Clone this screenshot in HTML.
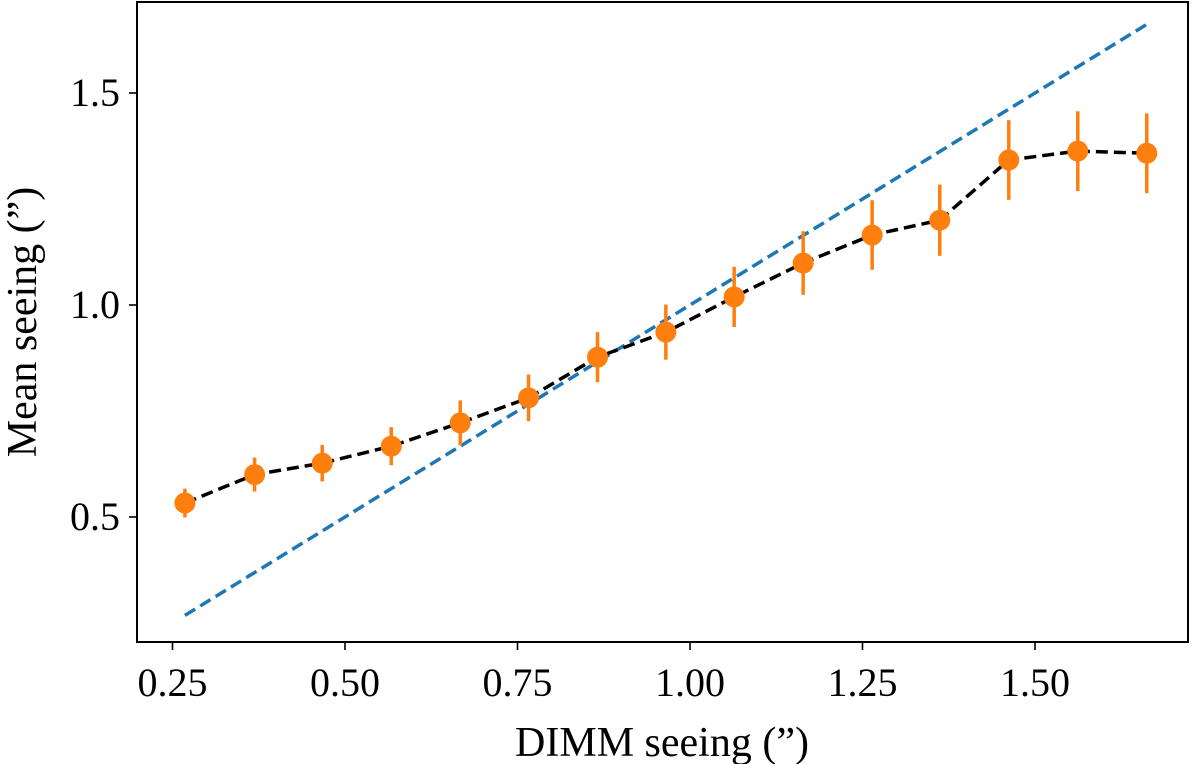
<!DOCTYPE html>
<html><head><meta charset="utf-8"><style>
html,body{margin:0;padding:0;background:#fff;}
svg{display:block;font-family:"Liberation Serif",serif;}
</style></head><body>
<svg id="chart" width="1200" height="764" viewBox="0 0 1200 764">
<rect x="137" y="2" width="1051" height="640" fill="none" stroke="#000" stroke-width="2"/>
<g id="xt"></g>
<g id="yt"></g>
<g id="marks"></g>
<text x="662" y="756" font-size="42" text-anchor="middle">DIMM seeing (”)</text>
<text transform="translate(36,322) rotate(-90)" font-size="42" text-anchor="middle">Mean seeing (”)</text>
</svg>
<script>
const xVals=[0.268,0.369,0.467,0.567,0.667,0.766,0.866,0.965,1.064,1.164,1.264,1.362,1.462,1.562,1.662];
const yVals=[0.533,0.600,0.627,0.667,0.722,0.781,0.877,0.936,1.019,1.099,1.165,1.200,1.342,1.363,1.358];
const yErr=[0.034,0.040,0.043,0.045,0.053,0.055,0.059,0.065,0.071,0.075,0.082,0.084,0.094,0.094,0.094];
const xTicks=[0.25,0.50,0.75,1.00,1.25,1.50];
const xTickLabels=["0.25","0.50","0.75","1.00","1.25","1.50"];
const yTicks=[0.5,1.0,1.5];
const yTickLabels=["0.5","1.0","1.5"];
const refLine=[0.268,1.662];
const X=v=>690+(v-1)*690;
const Y=v=>305-(v-1)*424;
const NS="http://www.w3.org/2000/svg";
function mk(tag,attrs,parent){const e=document.createElementNS(NS,tag);for(const k in attrs)e.setAttribute(k,attrs[k]);parent.appendChild(e);return e;}
const xt=document.getElementById('xt'),yt=document.getElementById('yt'),m=document.getElementById('marks');
xTicks.forEach((t,i)=>{
 const l=mk('line',{x1:X(t),x2:X(t),y1:642,y2:650,stroke:'#000','stroke-width':1.6},xt);
 
 
 const tx=mk('text',{x:X(t),y:696,'font-size':40,'text-anchor':'middle'},xt);tx.textContent=xTickLabels[i];
 
 
});
yTicks.forEach((t,i)=>{
 const l=mk('line',{x1:129,x2:137,y1:Y(t),y2:Y(t),stroke:'#000','stroke-width':1.6},yt);
 
 
 const tx=mk('text',{x:120,y:Y(t)+13,'font-size':40,'text-anchor':'end'},yt);tx.textContent=yTickLabels[i];
 
 
});
const ref=mk('line',{x1:X(refLine[0]),y1:Y(refLine[0]),x2:X(refLine[1]),y2:Y(refLine[1]),stroke:'#1f77b4','stroke-width':3.5,'stroke-dasharray':'12,6'},m);


const pl=mk('polyline',{points:xVals.map((x,i)=>X(x)+','+Y(yVals[i])).join(' '),fill:'none',stroke:'#000','stroke-width':3.5,'stroke-dasharray':'12,6'},m);


xVals.forEach((x,i)=>{
 const e=mk('line',{x1:X(x),x2:X(x),y1:Y(yVals[i]-yErr[i]),y2:Y(yVals[i]+yErr[i]),stroke:'#ff7f0e','stroke-width':3.5},m);
 
 
 const c=mk('circle',{cx:X(x),cy:Y(yVals[i]),r:10.5,fill:'#ff7f0e'},m);
 
 
});
</script>
</body></html>
